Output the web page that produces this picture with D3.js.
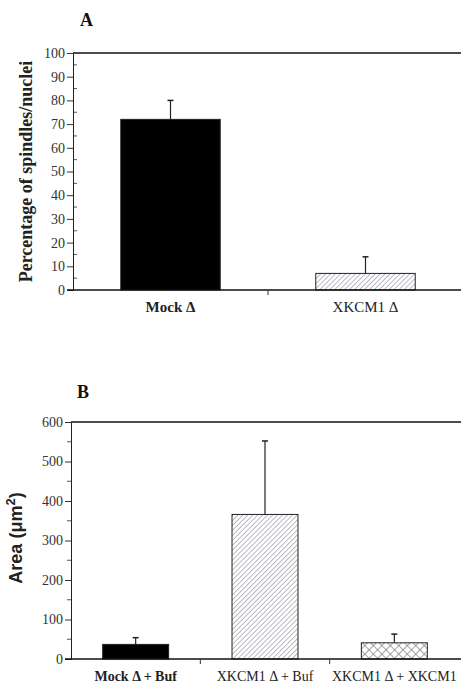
<!DOCTYPE html>
<html>
<head>
<meta charset="utf-8">
<script src="https://cdn.jsdelivr.net/npm/d3@7"></script>
<style>
  body { margin: 0; background: #fff; }
  svg { display: block; }
</style>
</head>
<body>
<div id="chart"></div>
<script>
// panel A: percentage of spindles / nuclei
const a_categories = ["Mock Δ", "XKCM1 Δ"];
const a_values = [72, 7];
const a_errors = [8, 7];
const a_ticks = [0, 10, 20, 30, 40, 50, 60, 70, 80, 90, 100];

// panel B: area
const b_categories = ["Mock Δ + Buf", "XKCM1 Δ + Buf", "XKCM1 Δ + XKCM1"];
const b_values = [37, 366, 41];
const b_errors = [17, 186, 22];
const b_ticks = [0, 100, 200, 300, 400, 500, 600];

const width = 461;
const height = 685;
const serif = "'Liberation Serif', 'DejaVu Serif', serif";

var svg = d3.select("#chart")
    .append("svg")
    .attr("width", width)
    .attr("height", height);

var defs = svg.append("defs");

// diagonal hatch
var hatch = defs.append("pattern")
    .attr("id", "hatch")
    .attr("patternUnits", "userSpaceOnUse")
    .attr("width", 3.5).attr("height", 3.5)
    .attr("patternTransform", "rotate(45)");
hatch.append("rect").attr("width", 3.5).attr("height", 3.5).attr("fill", "#fff");
hatch.append("line")
    .attr("x1", 0).attr("y1", 0).attr("x2", 0).attr("y2", 3.5)
    .attr("stroke", "#8e8c9c").attr("stroke-width", 1.2);

// cross hatch
var cross = defs.append("pattern")
    .attr("id", "cross")
    .attr("patternUnits", "userSpaceOnUse")
    .attr("width", 6).attr("height", 6)
    .attr("patternTransform", "rotate(45)");
cross.append("rect").attr("width", 6).attr("height", 6).attr("fill", "#fff");
cross.append("line").attr("x1", 0).attr("y1", 0).attr("x2", 0).attr("y2", 6)
    .attr("stroke", "#6b6670").attr("stroke-width", 1.2);
cross.append("line").attr("x1", 0).attr("y1", 0).attr("x2", 6).attr("y2", 0)
    .attr("stroke", "#6b6670").attr("stroke-width", 1.2);

function drawPanel(opts) {
    var g = svg.append("g");

    var y = d3.scaleLinear()
        .domain([0, opts.max])
        .range([opts.bottom, opts.top]);

    var x = d3.scaleBand()
        .domain(opts.categories)
        .range([opts.left, opts.right])
        .padding(0);

    // top line of the frame
    g.append("line")
        .attr("x1", opts.left).attr("x2", width + 2)
        .attr("y1", y(opts.max)).attr("y2", y(opts.max))
        .attr("stroke", "#111").attr("stroke-width", 1.6);

    // minor ticks (A: inside, B: outside)
    var minor = d3.range(opts.minorStep, opts.max, opts.minorStep * 2);
    g.selectAll(".minor")
        .data(minor)
        .enter()
        .append("line")
        .attr("x1", opts.left + opts.minorDir * 4).attr("x2", opts.left)
        .attr("y1", d => y(d)).attr("y2", d => y(d))
        .attr("stroke", "#444").attr("stroke-width", 0.9);

    var yAxis = d3.axisLeft(y)
        .tickValues(opts.ticks)
        .tickSize(6)
        .tickPadding(2);
    var ya = g.append("g")
        .attr("transform", "translate(" + opts.left + ",0)")
        .call(yAxis);
    ya.select(".domain").attr("stroke", "#222").attr("stroke-width", 1);
    ya.selectAll(".tick line").attr("stroke", "#333");
    ya.selectAll(".tick text")
        .attr("font-family", serif)
        .attr("font-size", 14)
        .attr("fill", "#333");

    // bars
    var barW = x.bandwidth() * 0.51;
    g.selectAll(".bar")
        .data(opts.values)
        .enter()
        .append("rect")
        .attr("x", (d, i) => x(opts.categories[i]) + (x.bandwidth() - barW) / 2)
        .attr("y", d => y(d))
        .attr("width", barW)
        .attr("height", d => y(0) - y(d))
        .attr("fill", (d, i) => opts.fills[i])
        .attr("stroke", "#222")
        .attr("stroke-width", 1);

    // error bars (upper only)
    var err = g.selectAll(".err")
        .data(opts.values)
        .enter()
        .append("g");
    err.append("line")
        .attr("x1", (d, i) => x(opts.categories[i]) + x.bandwidth() / 2)
        .attr("x2", (d, i) => x(opts.categories[i]) + x.bandwidth() / 2)
        .attr("y1", d => y(d))
        .attr("y2", (d, i) => y(d + opts.errors[i]))
        .attr("stroke", "#222").attr("stroke-width", 1.2);
    err.append("line")
        .attr("x1", (d, i) => x(opts.categories[i]) + x.bandwidth() / 2 - 3)
        .attr("x2", (d, i) => x(opts.categories[i]) + x.bandwidth() / 2 + 3)
        .attr("y1", (d, i) => y(d + opts.errors[i]))
        .attr("y2", (d, i) => y(d + opts.errors[i]))
        .attr("stroke", "#222").attr("stroke-width", 1.5);

    // baseline
    g.append("line")
        .attr("x1", opts.left - 6).attr("x2", width + 2)
        .attr("y1", y(0)).attr("y2", y(0))
        .attr("stroke", "#111").attr("stroke-width", 1.6);

    // category separator ticks
    g.selectAll(".sep")
        .data(opts.categories.slice(1))
        .enter()
        .append("line")
        .attr("x1", d => x(d)).attr("x2", d => x(d))
        .attr("y1", y(0)).attr("y2", y(0) + 5)
        .attr("stroke", "#333").attr("stroke-width", 1);

    // category labels
    g.selectAll(".cat")
        .data(opts.categories)
        .enter()
        .append("text")
        .attr("x", d => x(d) + x.bandwidth() / 2)
        .attr("y", y(0) + 22)
        .attr("text-anchor", "middle")
        .attr("font-family", serif)
        .attr("font-size", opts.catSize)
        .attr("font-weight", (d, i) => i === 0 ? "bold" : "normal")
        .attr("fill", "#222")
        .text(d => d);

    // panel letter
    g.append("text")
        .attr("x", opts.letterX)
        .attr("y", opts.letterY)
        .attr("font-family", serif)
        .attr("font-weight", "bold")
        .attr("font-size", 18)
        .attr("fill", "#111")
        .text(opts.letter);

    return { g: g, y: y };
}

var pa = drawPanel({
    categories: a_categories, values: a_values, errors: a_errors,
    ticks: a_ticks, max: 100, minorStep: 5, minorDir: 1,
    top: 53, bottom: 290, left: 73, right: 463, catSize: 15,
    fills: ["#000", "url(#hatch)"],
    letter: "A", letterX: 80, letterY: 26
});

pa.g.append("text")
    .attr("transform", "translate(32," + (53 + 290) / 2 + ") rotate(-90)")
    .attr("text-anchor", "middle")
    .attr("font-family", serif)
    .attr("font-size", 18)
    .attr("font-weight", 600)
    .attr("fill", "#222")
    .text("Percentage of spindles/nuclei");

var pb = drawPanel({
    categories: b_categories, values: b_values, errors: b_errors,
    ticks: b_ticks, max: 600, minorStep: 50, minorDir: -1,
    top: 422, bottom: 659, left: 71, right: 459, catSize: 14,
    fills: ["#000", "url(#hatch)", "url(#cross)"],
    letter: "B", letterX: 77, letterY: 398
});

var bl = pb.g.append("text")
    .attr("transform", "translate(22," + 538 + ") rotate(-90)")
    .attr("text-anchor", "middle")
    .attr("font-family", "'Liberation Sans', Arial, sans-serif")
    .attr("font-size", 18)
    .attr("font-weight", "bold")
    .attr("fill", "#222");
bl.append("tspan").text("Area (μm");
bl.append("tspan").attr("dy", -7).attr("font-size", 13).text("2");
bl.append("tspan").attr("dy", 7).text(")");
</script>
</body>
</html>
